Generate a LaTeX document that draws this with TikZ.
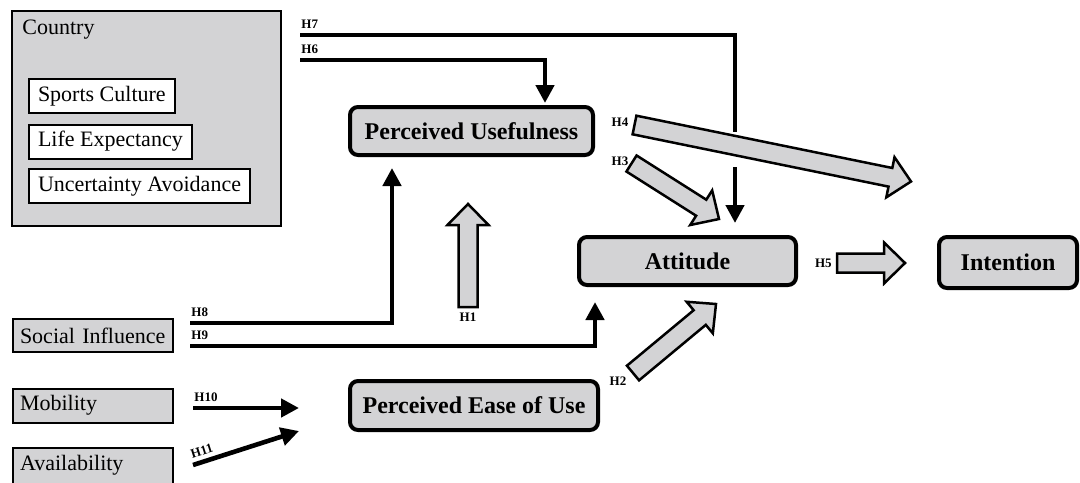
\documentclass[tikz,border=0pt]{standalone}
\usepackage{fontspec}
\setmainfont{Liberation Serif}
\usetikzlibrary{positioning, arrows.meta, calc}
\definecolor{boxgray}{RGB}{211,211,213}
\tikzset{
  factor/.style={rectangle, draw, fill=boxgray, line width=1pt, inner xsep=3.5pt, inner ysep=0pt,
    text width=73pt, align=left, minimum height=16.5pt, font=\fontsize{11}{13}\selectfont},
  dimension/.style={rectangle, draw, fill=white, line width=1pt, inner xsep=4.5pt, inner ysep=0pt,
    minimum height=17pt, anchor=west, font=\fontsize{11}{13}\selectfont},
  construct/.style={rectangle, draw, fill=boxgray, line width=2pt, rounded corners=4pt,
    font=\bfseries\fontsize{12}{14}\selectfont},
  hyp/.style={font=\bfseries\fontsize{6.5}{7}\selectfont, inner xsep=0.5pt, inner ysep=3pt},
  thinarrow/.style={line width=2.3pt, line join=miter, -{Triangle[width=9pt,length=9pt]}},
  blockarrow/.style={draw=black, fill=boxgray, line width=1.25pt, line join=miter,
    to path={let \p1=($(\tikztotarget)-(\tikztostart)$),
      \n1={atan2(\y1,\x1)}, \n2={veclen(\x1,\y1)-10.5pt} in
      ($(\tikztostart)+(\n1+90:4.75pt)$)
      -- ($(\tikztostart)+(\n1:\n2)+(\n1+90:4.75pt)$)
      -- ($(\tikztostart)+(\n1:\n2)+(\n1+90:10.25pt)$)
      -- (\tikztotarget)
      -- ($(\tikztostart)+(\n1:\n2)+(\n1-90:10.25pt)$)
      -- ($(\tikztostart)+(\n1:\n2)+(\n1-90:4.75pt)$)
      -- ($(\tikztostart)+(\n1-90:4.75pt)$) -- cycle}}
}
\begin{document}
\begin{tikzpicture}[x=0.5pt, y=-0.5pt]
  \useasboundingbox (0,0) rectangle (1080,482);

  % Nodes
  \node[rectangle, draw, fill=boxgray, line width=1pt, minimum width=134.5pt, minimum height=107.5pt] (country) at (146.5,118.5) {};
  \node[anchor=base west, inner sep=0pt, font=\fontsize{11}{13}\selectfont] (countrylabel) at (22,34) {Country};
  \node[dimension] (sports) at (28,96) {Sports Culture};
  \node[dimension] (life) at (28,141.5) {Life Expectancy};
  \node[dimension] (uncertainty) at (28,186) {Uncertainty Avoidance};

  \node[factor] (social) at (93,335.5) {Social Influence};
  \node[factor, minimum height=17pt] (mobility) at (93,405.5) {Mobility};
  \node[factor, minimum height=18pt] (availability) at (93,465.5) {Availability};

  \node[construct, minimum width=121.5pt, minimum height=24pt] (pu) at (471.5,131) {Perceived Usefulness};
  \node[construct, minimum width=108.5pt, minimum height=24pt] (att) at (687.5,261) {Attitude};
  \node[construct, minimum width=69pt, minimum height=25.5pt] (int) at (1008,262.5) {Intention};
  \node[construct, minimum width=124pt, minimum height=24.5pt] (peou) at (474,405.5) {Perceived Ease of Use};

  % Arrow ends
  \coordinate (s6) at (300,60);   \coordinate (e6) at (545,103);
  \coordinate (s7) at (300,35);   \coordinate (k7) at (735,132);
  \coordinate (r7) at (735,167);  \coordinate (e7) at (735,223);
  \coordinate (s8) at (190,323);  \coordinate (e8) at (392,168);
  \coordinate (s9) at (190,346);  \coordinate (e9) at (595,302);
  \coordinate (s10) at (193,408); \coordinate (e10) at (299,408);
  \coordinate (s11) at (193,465); \coordinate (e11) at (299,431);

  \coordinate (s1) at (468,307);     \coordinate (e1) at (468,204);
  \coordinate (s2) at (633,373);     \coordinate (e2) at (716,304);
  \coordinate (s3) at (631.5,163.5); \coordinate (e3) at (719,219);
  \coordinate (s4) at (634.5,125);   \coordinate (e4) at (911,181.5);
  \coordinate (s5) at (837,263);     \coordinate (e5) at (905,263);

  % Arrows
  \foreach \i in {6,8,9}
  \draw[thinarrow] (s\i) -| (e\i);
  \foreach \i in {10,11}
  \draw[thinarrow] (s\i) -- (e\i);
  \draw[line width=2.3pt, line join=miter] (s7) -| (k7);
  \draw[thinarrow] (r7) -- (e7);
  \foreach \i in {1,...,5}
  \draw[blockarrow] (s\i) to (e\i);

  % Labels
  \foreach \i in {6,...,10}
  \node[hyp, anchor=south west] (h\i) at (s\i) {H\i};
  \path (s11) -- (e11) node[hyp, sloped, pos=0, anchor=south west] (h11) {H11};
  \node[hyp, below=0pt of s1] (h1) {H1};
  \node[hyp] (h2) at (618,381) {H2};
  \node[hyp] (h3) at (620,161) {H3};
  \node[hyp] (h4) at (620,122) {H4};
  \node[hyp, left=2pt of s5] (h5) {H5};
\end{tikzpicture}
\end{document}
